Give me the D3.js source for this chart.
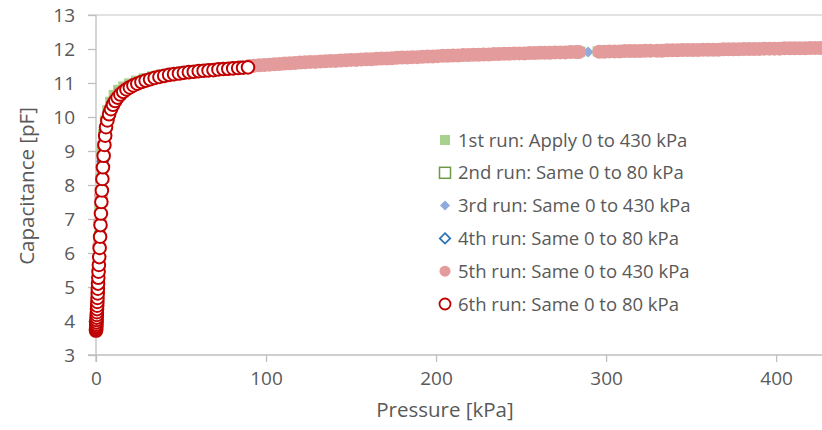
<!DOCTYPE html>
<html><head><meta charset="utf-8">
<script src="https://cdn.jsdelivr.net/npm/d3@7"></script>
<style>
body{margin:0;background:#fff}
text{font-family:"Open Sans",sans-serif;fill:#595959}
</style>
</head><body>
<svg id="c" width="822" height="430"></svg>
<script>
// ---------- DATA ----------
const xTicks = [0, 100, 200, 300, 400];
const yTicks = [3, 4, 5, 6, 7, 8, 9, 10, 11, 12, 13];
const xTitle = "Pressure [kPa]";
const yTitle = "Capacitance [pF]";
const legendLabels = [
  "1st run: Apply 0 to 430 kPa",
  "2nd run: Same 0 to 80 kPa",
  "3rd run: Same 0 to 430 kPa",
  "4th run: Same 0 to 80 kPa",
  "5th run: Same 0 to 430 kPa",
  "6th run: Same 0 to 80 kPa"
];
// [pressure kPa, capacitance pF]
const run1 = [[0,3.8],[0.3,4.3],[0.6,4.9],[1.0,5.6],[1.4,6.4],[1.9,7.3],[2.5,8.2],[3.2,9.0],[4.1,9.5],[5.2,9.9],[6.6,10.2],[8.3,10.45],[10.4,10.65],[13,10.8],[16,10.9],[19.5,10.99],[23.5,11.07],[28,11.14],[33,11.2],[38,11.25],[44,11.3],[50,11.34],[56,11.37],[62,11.4],[68,11.43],[74,11.45],[80,11.47],[86,11.5],[95,11.54],[105,11.56],[115,11.59],[125,11.62],[135,11.64],[145,11.67],[155,11.69],[165,11.71],[175,11.74],[185,11.76],[195,11.78],[205,11.8],[215,11.82],[225,11.83],[235,11.85],[245,11.87],[255,11.88],[265,11.89],[275,11.91],[285,11.92],[295,11.93],[305,11.94],[315,11.95],[325,11.95],[335,11.96],[345,11.97],[355,11.98],[365,11.98],[375,11.99],[385,12.0],[395,12.01],[405,12.02],[415,12.02],[425,12.03]];
const run2 = [[0,3.75],[0.4,4.2],[0.9,4.8],[1.5,5.6],[2.2,6.5],[3.0,7.6],[4.0,8.7],[5.5,9.6],[7.5,10.1],[10,10.4],[14,10.7],[20,10.9],[30,11.1],[40,11.2],[50,11.28],[60,11.34],[70,11.39],[80,11.43]];
const run3 = [[0,3.75],[0.5,4.3],[1.2,5.2],[2.0,6.3],[3.0,7.6],[4.2,8.8],[6,9.7],[9,10.35],[14,10.75],[22,10.98],[35,11.18],[50,11.3],[70,11.4],[90,11.5],[110,11.57],[130,11.63],[150,11.68],[170,11.72],[190,11.77],[210,11.81],[230,11.84],[250,11.87],[270,11.9],[289.5,11.91],[305,11.93],[325,11.95],[345,11.97],[365,11.98],[385,12.0],[405,12.01],[425,12.03]];
const run4 = [[0,3.74],[0.4,4.2],[0.9,4.8],[1.5,5.6],[2.2,6.5],[3.0,7.6],[4.0,8.7],[5.5,9.6],[7.5,10.1],[10,10.4],[14,10.7],[20,10.9],[30,11.1],[40,11.2],[50,11.28],[60,11.34],[70,11.39],[80,11.43]];
const run5 = [[0,3.7],[0.3,4.0],[0.6,4.4],[1.0,4.9],[1.4,5.5],[1.9,6.2],[2.4,6.9],[3.0,7.7],[3.7,8.5],[4.6,9.2],[5.8,9.7],[7.3,10.0],[9.2,10.3],[11.5,10.52],[14.2,10.7],[17.5,10.83],[21,10.92],[25,11.0],[30,11.08],[35,11.15],[40,11.2],[45,11.24],[50,11.28],[55,11.31],[60,11.34],[65,11.37],[70,11.39],[75,11.42],[80,11.44],[85,11.47],
[90,11.50],[93,11.51],[96,11.52],[99,11.53],[102,11.54],[105,11.55],[108,11.56],[111,11.57],[114,11.58],[117,11.59],[120,11.60],[123,11.61],[126,11.62],[129,11.62],[132,11.63],[135,11.64],[138,11.65],[141,11.65],[144,11.66],[147,11.67],[150,11.68],[153,11.68],[156,11.69],[159,11.70],[162,11.70],[165,11.71],[168,11.72],[171,11.72],[174,11.73],[177,11.74],[180,11.75],[183,11.75],[186,11.76],[189,11.76],[192,11.77],[195,11.78],[198,11.78],[201,11.79],[204,11.80],[207,11.80],[210,11.81],[213,11.81],[216,11.82],[219,11.82],[222,11.83],[225,11.83],[228,11.84],[231,11.84],[234,11.85],[237,11.85],[240,11.86],[243,11.86],[246,11.87],[249,11.87],[252,11.87],[255,11.88],[258,11.88],[261,11.89],[264,11.89],[267,11.89],[270,11.90],[273,11.90],[276,11.90],[279,11.91],[282,11.91],[284,11.91],
[296,11.92],[299,11.92],[302,11.93],[305,11.93],[308,11.93],[311,11.94],[314,11.94],[317,11.94],[320,11.94],[323,11.95],[326,11.95],[330,11.95],[333,11.95],[336,11.96],[339,11.96],[342,11.96],[345,11.97],[348,11.97],[351,11.97],[354,11.97],[357,11.98],[360,11.98],[363,11.98],[366,11.98],[369,11.99],[372,11.99],[375,11.99],[378,11.99],[381,12.00],[384,12.00],[387,12.00],[390,12.00],[393,12.01],[396,12.01],[399,12.01],[402,12.01],[405,12.02],[408,12.02],[411,12.02],[414,12.02],[417,12.02],[420,12.03],[423,12.03],[426,12.03],[429,12.03]];
const run6 = [[0,3.72],[0.05,3.76],[0.1,3.8],[0.15,3.85],[0.2,3.9],[0.25,3.96],[0.3,4.03],[0.38,4.1],[0.45,4.18],[0.52,4.26],[0.6,4.35],[0.7,4.45],[0.8,4.56],[0.9,4.68],[1.0,4.81],[1.1,4.95],[1.2,5.1],[1.35,5.27],[1.5,5.45],[1.7,5.65],[1.9,5.88],
[2.15,6.15],[2.4,6.48],[2.65,6.82],[2.9,7.16],[3.15,7.5],[3.45,7.84],[3.75,8.18],[4.1,8.52],[4.5,8.86],[4.95,9.18],[5.4,9.45],
[5.9,9.7],[6.7,9.9],[7.7,10.08],[8.8,10.23],[10,10.36],[11.3,10.47],[12.7,10.57],[14.3,10.66],[16,10.74],[17.9,10.81],[19.9,10.87],[22,10.93],[24.3,10.98],[26.7,11.03],[29.2,11.07],[31.8,11.11],[34.5,11.15],[37.3,11.18],[40.1,11.21],[43,11.24],[45.9,11.26],[48.8,11.28],[51.7,11.30],[54.6,11.32],[57.5,11.33],[60.4,11.35],[63.3,11.36],[66.2,11.37],[69.1,11.38],[72,11.4],[74.9,11.41],[77.8,11.42],[80.7,11.43],[83.6,11.44],[86.5,11.45],[89.4,11.46]];

// ---------- CHART ----------
const svg = d3.select("#c");
const x = d3.scaleLinear().domain([0, 427]).range([96, 822]);
const y = d3.scaleLinear().domain([3, 13]).range([355, 15]);

// top gridline
svg.append("line").attr("x1", 88).attr("x2", 822).attr("y1", y(13)).attr("y2", y(13))
  .attr("stroke", "#d9d9d9").attr("stroke-width", 1.3);

// y axis
const gy = svg.append("g").attr("transform", `translate(${x(0)},0)`)
  .call(d3.axisLeft(y).tickValues(yTicks).tickSize(8).tickPadding(13).tickFormat(d3.format("d")));
gy.select(".domain").attr("stroke", "#bfbfbf").attr("stroke-width", 1.3).attr("d", `M0,${y(13)}V${y(3)+7}`);
gy.selectAll(".tick line").attr("stroke", "#bfbfbf").attr("stroke-width", 1.3);
gy.selectAll("text").style("font-size", "19px").attr("fill", "#595959");

// x axis
const gx = svg.append("g").attr("transform", `translate(0,${y(3)})`)
  .call(d3.axisBottom(x).tickValues(xTicks).tickSize(7).tickPadding(10).tickFormat(d3.format("d")));
gx.select(".domain").attr("stroke", "#bfbfbf").attr("stroke-width", 1.3).attr("d", `M${x(0)-8},0H822`);
gx.selectAll(".tick line").attr("stroke", "#bfbfbf").attr("stroke-width", 1.3);
gx.selectAll("text").style("font-size", "19px").attr("fill", "#595959");

// titles
svg.append("text").attr("x", 445).attr("y", 417).attr("text-anchor", "middle")
  .style("font-size", "20.5px").text(xTitle);
svg.append("text").attr("transform", "translate(34,186) rotate(-90)").attr("text-anchor", "middle")
  .style("font-size", "20.5px").text(yTitle);

const plot = svg.append("g");
const sq = d3.symbol().type(d3.symbolSquare);
// square diamond (rotated square) path of half-diagonal h
const diamond = h => `M0,${-h}L${h},0L0,${h}L${-h},0Z`;

plot.append("g").selectAll("path").data(run1).join("path")
  .attr("transform", d => `translate(${x(d[0])},${y(d[1])})`)
  .attr("d", sq.size(100)()).attr("fill", "#a9d18e");
plot.append("g").selectAll("path").data(run2).join("path")
  .attr("transform", d => `translate(${x(d[0])},${y(d[1])})`)
  .attr("d", sq.size(90)()).attr("fill", "none").attr("stroke", "#6f9a45").attr("stroke-width", 1.5);
plot.append("g").selectAll("path").data(run3).join("path")
  .attr("transform", d => `translate(${x(d[0])},${y(d[1])})`)
  .attr("d", diamond(5.5)).attr("fill", "#8faadc");
plot.append("g").selectAll("path").data(run4).join("path")
  .attr("transform", d => `translate(${x(d[0])},${y(d[1])})`)
  .attr("d", diamond(5.5)).attr("fill", "none").attr("stroke", "#2e75b6").attr("stroke-width", 1.5);
plot.append("g").selectAll("circle").data(run5).join("circle")
  .attr("cx", d => x(d[0])).attr("cy", d => y(d[1])).attr("r", 7).attr("fill", "#e39b9b");
plot.append("g").selectAll("circle").data(run6).join("circle")
  .attr("cx", d => x(d[0])).attr("cy", d => y(d[1])).attr("r", 6.3)
  .attr("fill", "#fff").attr("stroke", "#c00000").attr("stroke-width", 2);

// legend
const lg = svg.append("g");
const ly0 = 140, ldy = 32.8, lmx = 445, ltx = 458;
legendLabels.forEach((t, i) => {
  const cy = ly0 + i * ldy;
  const g = lg.append("g");
  if (i === 0) g.append("rect").attr("x", lmx-5).attr("y", cy-5).attr("width", 10).attr("height", 10).attr("fill", "#a9d18e");
  if (i === 1) g.append("rect").attr("x", lmx-5.5).attr("y", cy-5.5).attr("width", 11).attr("height", 11).attr("fill", "none").attr("stroke", "#6f9a45").attr("stroke-width", 1.5);
  if (i === 2) g.append("path").attr("transform", `translate(${lmx},${cy})`).attr("d", diamond(5)).attr("fill", "#8faadc");
  if (i === 3) g.append("path").attr("transform", `translate(${lmx},${cy})`).attr("d", diamond(5.2)).attr("fill", "none").attr("stroke", "#2e75b6").attr("stroke-width", 1.8);
  if (i === 4) g.append("circle").attr("cx", lmx).attr("cy", cy).attr("r", 5.5).attr("fill", "#e39b9b");
  if (i === 5) g.append("circle").attr("cx", lmx).attr("cy", cy).attr("r", 5.5).attr("fill", "#fff").attr("stroke", "#c00000").attr("stroke-width", 1.8);
  g.append("text").attr("x", ltx).attr("y", cy).attr("dy", "0.36em").style("font-size", "18.5px").text(t);
});
</script>
</body></html>
